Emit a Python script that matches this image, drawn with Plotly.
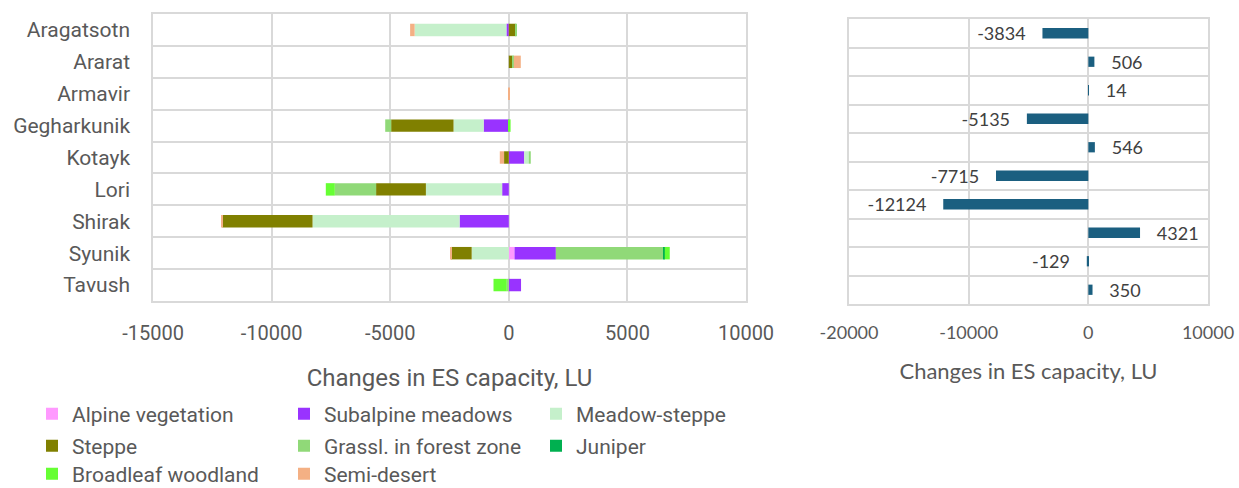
import plotly.graph_objects as go

regions = ["Aragatsotn", "Ararat", "Armavir", "Gegharkunik", "Kotayk",
           "Lori", "Shirak", "Syunik", "Tavush"]

alpine_vegetation = [0, 0, 0, 0, 0, 0, 0, 242, 0]
subalpine_meadows = [-100, 0, 0, -1060, 650, -280, -2074, 1742, 516]
meadow_steppe = [-3870, 0, 0, -1270, 190, -3215, -6200, -1565, 0]
steppe = [290, 140, 0, -2630, -200, -2100, -3800, -870, 0]
grassl_forest_zone = [36, 70, 0, -250, 86, -1740, 0, 4527, -85]
juniper = [0, 0, 0, 0, 0, 0, 0, 65, 0]
broadleaf_woodland = [0, 0, 0, 75, 0, -380, 0, 210, -560]
semi_desert = [-190, 296, 14, 0, -180, 0, -50, -30, 0]

total_regions = ["Aragatsotn", "Ararat", "Armavir", "Gegharkunik", "Kotayk",
                 "Lori", "Shirak", "Syunik", "Tavush", "Vayots Dzor"]
total_change = [-3834, 506, 14, -5135, 546, -7715, -12124, 4321, -129, 350]

left_ticks = [-15000, -10000, -5000, 0, 5000, 10000]
right_ticks = [-20000, -10000, 0, 10000]

series = [
    ("Alpine vegetation", alpine_vegetation, "#FF99FF", "legend"),
    ("Subalpine meadows", subalpine_meadows, "#9933FF", "legend"),
    ("Meadow-steppe", meadow_steppe, "#C5F0CB", "legend"),
    ("Steppe", steppe, "#808000", "legend2"),
    ("Grassl. in forest zone", grassl_forest_zone, "#90D978", "legend2"),
    ("Juniper", juniper, "#00B050", "legend2"),
    ("Broadleaf woodland", broadleaf_woodland, "#66FF33", "legend3"),
    ("Semi-desert", semi_desert, "#F4B084", "legend3"),
]

W, H = 1239, 488
GRID = "#D9D9D9"
TXT = "#595959"
LFONT = "Roboto"
RFONT = "Lato"

fig = go.Figure()
for name, vals, color, lg in series:
    fig.add_trace(go.Bar(
        y=regions, x=vals, name=name, orientation="h",
        marker=dict(color=color, line=dict(width=0)),
        width=0.39, legend=lg, xaxis="x", yaxis="y",
        hoverinfo="x+y+name",
    ))

pad = "\u00a0" * 3
labels = [f"{v}{pad}" if v < 0 else f"{pad}{v}" for v in total_change]

fig.add_trace(go.Bar(
    y=total_regions, x=total_change, orientation="h",
    marker=dict(color="#1B5F80", line=dict(width=0)),
    width=0.36, showlegend=False, xaxis="x2", yaxis="y2",
    text=labels, textposition="outside", cliponaxis=False,
    constraintext="none",
    textfont=dict(family=RFONT, size=18, color="#404040"),
))


def px_x(a, b):
    return [a / W, b / W]


def px_y(top, bottom):
    return [(H - bottom) / H, (H - top) / H]


def py(y):
    return (H - y) / H


axis_common = dict(showgrid=True, gridcolor=GRID, gridwidth=1.5,
                   showline=True, linecolor=GRID, linewidth=1.5, mirror=True,
                   ticks="")

fig.update_layout(
    width=W, height=H,
    margin=dict(l=0, r=0, t=0, b=0, autoexpand=False),
    paper_bgcolor="white", plot_bgcolor="white",
    barmode="relative",
    font=dict(family=LFONT, color=TXT),
    xaxis=dict(domain=px_x(153, 746), range=[-15000, 10000],
               tickvals=left_ticks, ticktext=[str(t) for t in left_ticks],
               zeroline=True, zerolinecolor=GRID,
               zerolinewidth=1.5, anchor="y",
               tickfont=dict(family=LFONT, size=20, color=TXT),
               ticklabelstandoff=13,
               title=dict(text="Changes in ES capacity, LU",
                          font=dict(family=LFONT, size=24, color=TXT),
                          standoff=25),
               **axis_common),
    yaxis=dict(domain=px_y(14, 301), autorange="reversed", anchor="x",
               type="category", tickson="boundaries",
               tickfont=dict(family=LFONT, size=21, color=TXT),
               ticklabelstandoff=17,
               **axis_common),
    xaxis2=dict(domain=px_x(849, 1208), range=[-20000, 10000],
                tickvals=right_ticks, ticktext=[str(t) for t in right_ticks],
                zeroline=True, zerolinecolor=GRID,
                zerolinewidth=1.5, anchor="y2",
                tickfont=dict(family=RFONT, size=18, color=TXT),
                ticklabelstandoff=12,
                title=dict(text="Changes in ES capacity, LU",
                           font=dict(family=RFONT, size=22, color=TXT),
                           standoff=21),
                **axis_common),
    yaxis2=dict(domain=px_y(19, 304), autorange="reversed", anchor="x2",
                type="category", tickson="boundaries", showticklabels=False,
                **axis_common),
)

leg_common = dict(orientation="h", xanchor="left", yanchor="middle",
                  x=32 / W, entrywidth=207, entrywidthmode="pixels",
                  font=dict(family=LFONT, size=21, color=TXT),
                  bgcolor="rgba(0,0,0,0)", traceorder="normal")
fig.update_layout(
    legend=dict(y=py(414), **leg_common),
    legend2=dict(y=py(446), **leg_common),
    legend3=dict(y=py(474), **leg_common),
)

fig.write_html(
    "out.html",
    config={"displayModeBar": False},
    post_script="document.body.style.margin='0';"
                "document.body.style.overflow='hidden';",
)
